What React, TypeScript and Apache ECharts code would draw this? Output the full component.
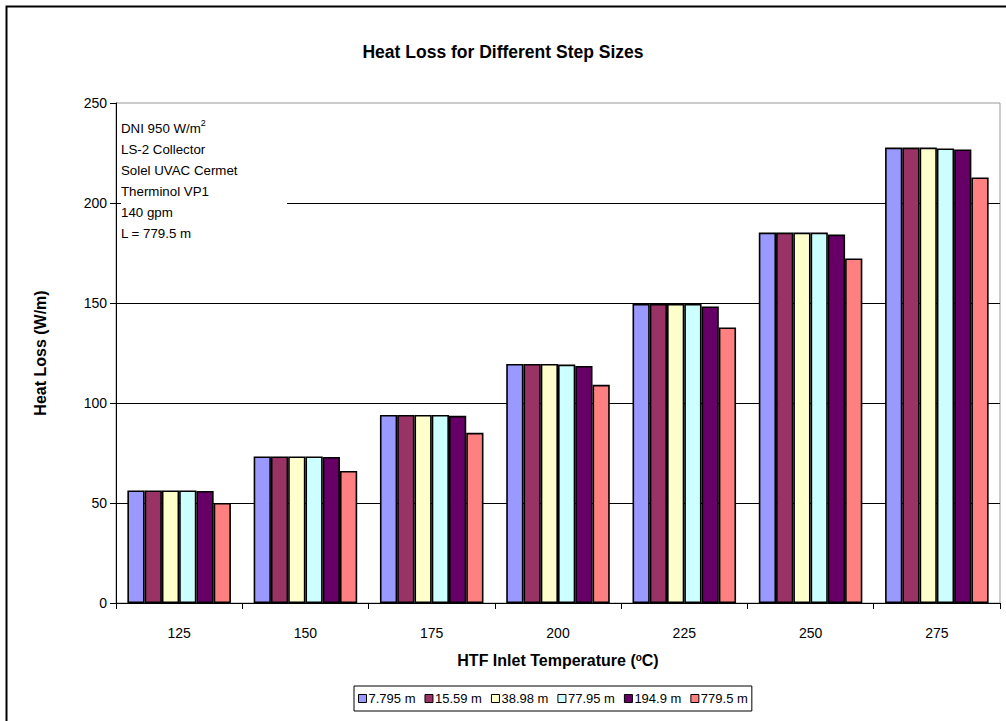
import React, { useEffect, useRef } from "react";
import * as echarts from "echarts";

const categories = ["125", "150", "175", "200", "225", "250", "275"];
const seriesNames = ["7.795 m", "15.59 m", "38.98 m", "77.95 m", "194.9 m", "779.5 m"];
const s7795 = [56.3, 73.3, 94.0, 119.5, 149.5, 185.2, 227.7];
const s1559 = [56.3, 73.3, 94.0, 119.5, 149.5, 185.2, 227.7];
const s3898 = [56.3, 73.3, 94.0, 119.5, 149.5, 185.2, 227.7];
const s7795b = [56.3, 73.3, 94.0, 119.2, 149.5, 185.2, 227.3];
const s1949 = [56.0, 73.0, 93.6, 118.5, 148.3, 184.2, 226.8];
const s7795c = [50.0, 66.0, 85.1, 109.1, 137.8, 172.3, 212.8];
const seriesValues = [s7795, s1559, s3898, s7795b, s1949, s7795c];
const colors = ["#9999FF", "#993366", "#FFFFCC", "#CCFFFF", "#660066", "#FF8080"];
const yTicks = { min: 0, max: 250, interval: 50 };
const noteLines = ["LS-2 Collector", "Solel UVAC Cermet", "Therminol VP1", "140 gpm", "L = 779.5 m"];

const FONT = "Liberation Sans, Arial, sans-serif";

export default function App() {
  const ref = useRef<HTMLDivElement>(null);
  useEffect(() => {
    if (!ref.current) return;
    const chart = echarts.init(ref.current, undefined, { renderer: "svg" });
    const noteText =
      "{a|DNI 950 W/m}{s|2}\n" + noteLines.map((l) => "{a|" + l + "}").join("\n");
    chart.setOption({
      animation: false,
      backgroundColor: "#ffffff",
      textStyle: { fontFamily: FONT },
      title: {
        text: "Heat Loss for Different Step Sizes",
        left: "center",
        top: 38,
        textStyle: { fontSize: 17.5, fontWeight: "bold", color: "#000", fontFamily: FONT },
      },
      grid: {
        left: 116,
        right: 6,
        top: 103,
        bottom: 118,
        show: true,
        borderColor: "#999",
        borderWidth: 1,
        backgroundColor: "transparent",
      },
      legend: {
        data: seriesNames,
        left: 354,
        top: 686,
        orient: "horizontal",
        icon: "rect",
        itemWidth: 8,
        itemHeight: 8,
        itemGap: 9,
        padding: [6, 4, 6, 4],
        borderColor: "#000",
        borderWidth: 1,
        textStyle: { fontSize: 13, color: "#000", fontFamily: FONT, padding: [0, 0, 0, -3] },
        itemStyle: { borderColor: "#000", borderWidth: 1 },
      },
      xAxis: {
        type: "category",
        data: categories,
        name: "{m|HTF Inlet Temperature (}{s|o}{m|C)}",
        nameLocation: "middle",
        nameGap: 49,
        nameTextStyle: {
          rich: {
            m: { fontSize: 16, fontWeight: "bold", color: "#000", fontFamily: FONT },
            s: { fontSize: 10, fontWeight: "bold", color: "#000", fontFamily: FONT, verticalAlign: "top" },
          },
        },
        axisLine: { show: true, lineStyle: { color: "#000", width: 1 } },
        axisTick: { show: true, length: 6, lineStyle: { color: "#000" } },
        axisLabel: { fontSize: 14, color: "#000", margin: 23, fontFamily: FONT },
        splitLine: { show: false },
      },
      yAxis: {
        type: "value",
        min: yTicks.min,
        max: yTicks.max,
        interval: yTicks.interval,
        name: "Heat Loss (W/m)",
        nameLocation: "middle",
        nameGap: 68,
        nameTextStyle: { fontSize: 16, fontWeight: "bold", color: "#000", fontFamily: FONT },
        axisLine: { show: true, lineStyle: { color: "#000", width: 1 } },
        axisTick: { show: true, length: 6, lineStyle: { color: "#000" } },
        axisLabel: { fontSize: 14, color: "#000", margin: 9, fontFamily: FONT },
        splitLine: { show: true, showMinLine: false, showMaxLine: false, lineStyle: { color: "#000", width: 1 } },
      },
      series: seriesValues.map((vals, i) => ({
        type: "bar",
        name: seriesNames[i],
        data: vals,
        barGap: "0%",
        barCategoryGap: "18%",
        itemStyle: { color: colors[i], borderColor: "#000", borderWidth: 1.6 },
      })),
      graphic: [
        {
          type: "rect",
          left: 4,
          top: 4,
          shape: { width: 1012, height: 740 },
          style: { fill: "none", stroke: "#000", lineWidth: 2 },
          z: 100,
          silent: true,
        },
        {
          type: "rect",
          left: 121,
          top: 110,
          shape: { width: 166, height: 140 },
          style: { fill: "#fff" },
          z: 50,
          silent: true,
        },
        {
          type: "text",
          left: 121,
          top: 118,
          z: 51,
          style: {
            text: noteText,
            rich: {
              a: { fontSize: 13.3, lineHeight: 21, fill: "#000", fontFamily: FONT },
              s: { fontSize: 9, lineHeight: 21, fill: "#000", fontFamily: FONT, verticalAlign: "top" },
            },
          },
        },
      ],
    });
    return () => chart.dispose();
  }, []);
  return (
    <div
      ref={ref}
      style={{ position: "fixed", left: 0, top: 0, width: 1006, height: 721, background: "#fff" }}
    />
  );
}
